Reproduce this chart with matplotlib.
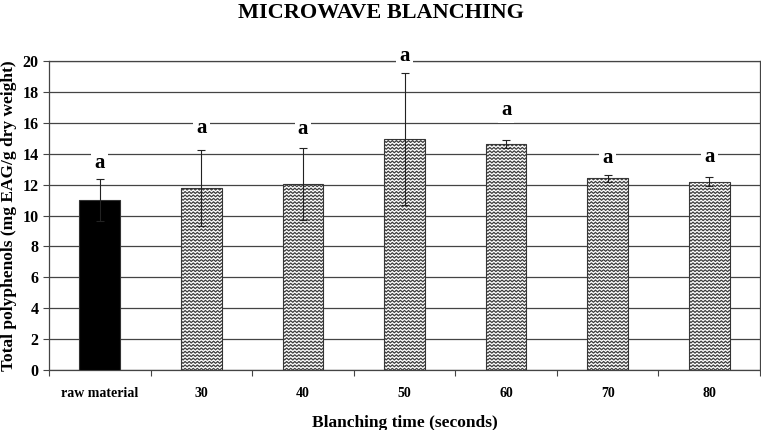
import numpy as np
import matplotlib.pyplot as plt
from matplotlib.collections import LineCollection

categories = ["raw material", "30", "40", "50", "60", "70", "80"]
values = [11.0, 11.8, 12.05, 14.95, 14.65, 12.4, 12.2]
errors = [1.35, 2.45, 2.35, 4.3, 0.25, 0.25, 0.28]
letters = ["a", "a", "a", "a", "a", "a", "a"]

# lift of the letter above each error bar, in pixels (set by hand like the original)
label_lift = [16, 22, 19, 17, 30, 17, 20]

plt.rcParams['font.family'] = ['Liberation Serif', 'DejaVu Serif']
plt.rcParams['font.weight'] = 'bold'

fig = plt.figure(figsize=(7.61, 4.30), dpi=100)
ax = fig.add_axes([0.0644, 0.1395, 0.9343, 0.7185])

x = np.arange(len(categories))
colors = ["black"] + ["white"] * (len(categories) - 1)
bars = ax.bar(x, values, width=0.4, color=colors, edgecolor="#333333",
              linewidth=0.8, zorder=3)

# zigzag fill for the blanched samples
for i, b in enumerate(bars):
    if i == 0:
        continue
    x0, x1 = b.get_x(), b.get_x() + b.get_width()
    xs = np.arange(x0 - 0.02, x1 + 0.04, 0.02)
    segs = []
    for yy in np.arange(0.05, b.get_height() + 0.3, 0.22):
        ys = yy + np.where(np.arange(len(xs)) % 2 == 0, -0.06, 0.06)
        segs.append(np.column_stack([xs, ys]))
    lc = LineCollection(segs, colors="#3c3c3c", linewidths=0.9, zorder=3.5)
    ax.add_collection(lc)
    lc.set_clip_path(b)

ax.errorbar(x, values, yerr=errors, fmt="none", ecolor="#222222",
            elinewidth=0.8, capsize=3, capthick=0.8, zorder=4)

for xi, v, e, t, lift in zip(x, values, errors, letters, label_lift):
    ax.annotate(t, (xi, v + e), xytext=(0, lift * 0.72), textcoords="offset points",
                ha="center", va="center", fontsize=15, fontweight="bold",
                annotation_clip=False, zorder=5,
                bbox=dict(boxstyle="square,pad=0.15", fc="white", ec="none"))

ax.set_ylim(0, 20)
ax.set_xlim(-0.5, len(categories) - 0.5)
ax.set_yticks(np.arange(0, 21, 2))
ax.yaxis.grid(True, color="#444444", linewidth=0.9, zorder=0)
ax.set_axisbelow(True)

ax.set_xticks(np.arange(-0.5, len(categories), 1.0))
ax.set_xticklabels([])
ax.set_xticks(x, minor=True)
ax.set_xticklabels(categories, minor=True)
ax.tick_params(axis="x", which="major", direction="out", length=4, color="#444444")
ax.tick_params(axis="x", which="minor", length=0, pad=12, labelsize=10)
ax.tick_params(axis="y", length=4, direction="out", color="#444444", labelsize=11.5)

for s in ax.spines.values():
    s.set_color("#444444")
    s.set_linewidth(0.9)

ax.set_ylabel("Total polyphenols (mg EAG/g dry weight)", fontsize=12.5,
              fontweight="bold", labelpad=4)
ax.set_xlabel("Blanching time (seconds)", fontsize=12.5, fontweight="bold", labelpad=11)
fig.text(0.5, 0.97, "MICROWAVE BLANCHING", ha="center", va="center",
         fontsize=16, fontweight="bold")

fig.savefig("out.png", dpi=100)
